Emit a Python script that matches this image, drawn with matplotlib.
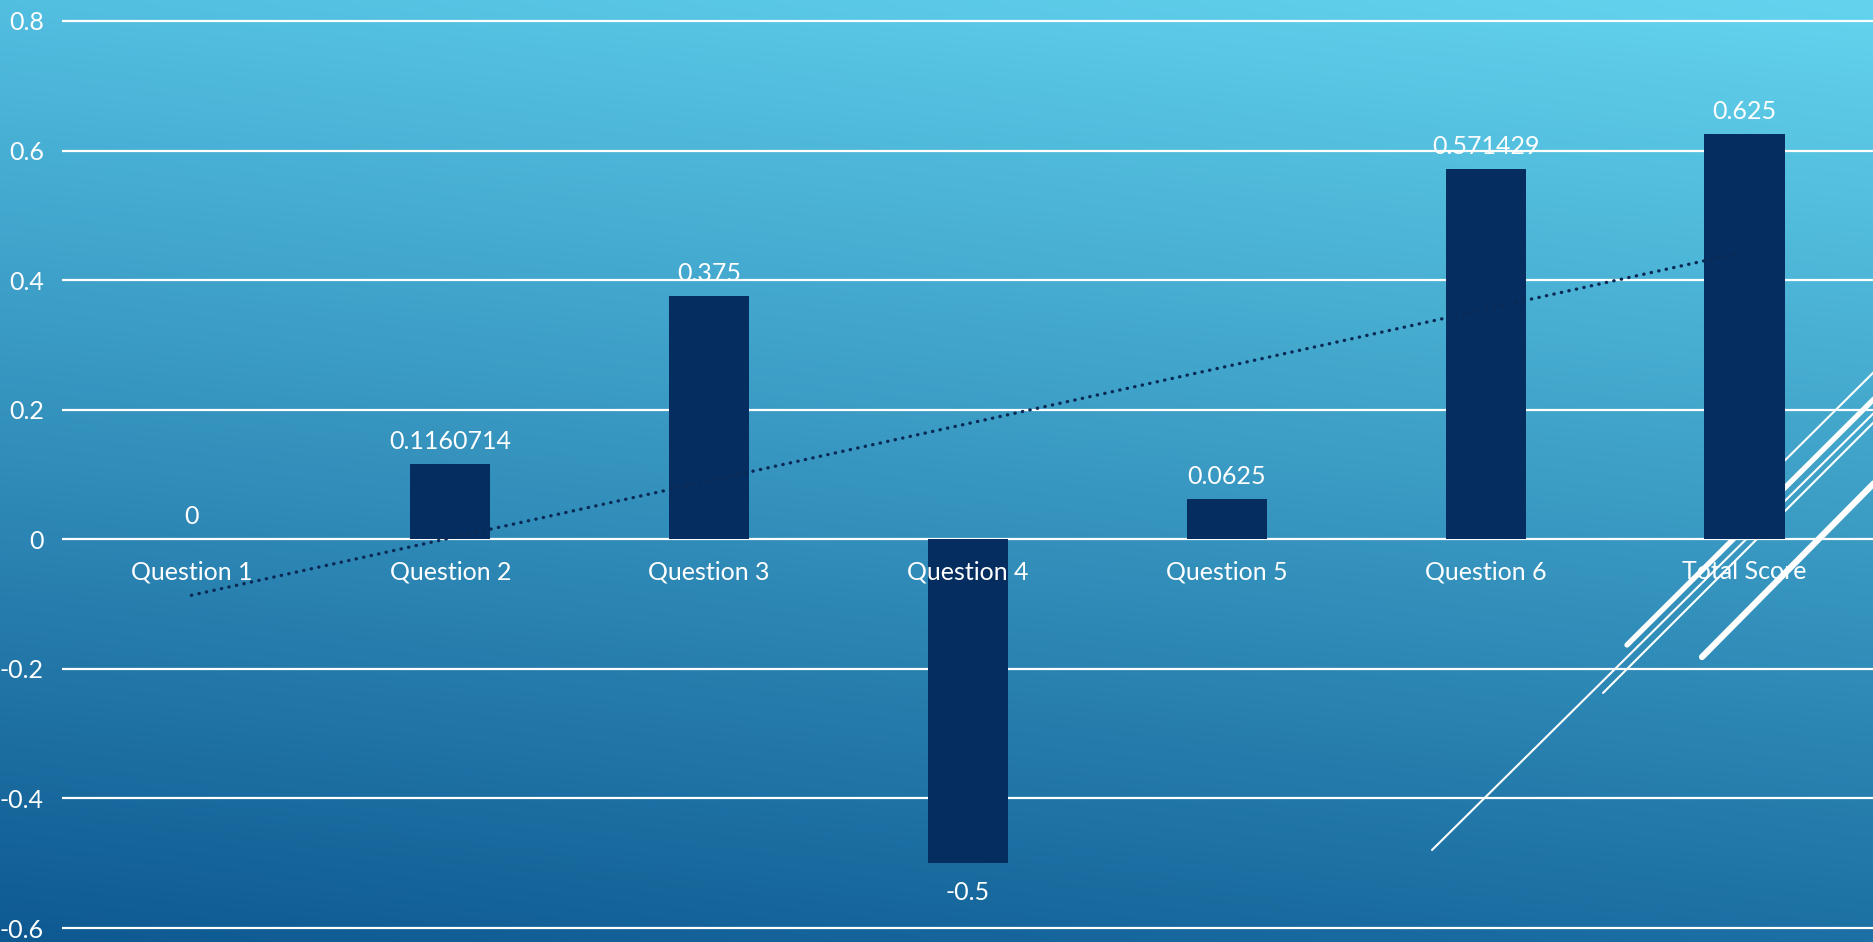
import numpy as np
import matplotlib
matplotlib.use("Agg")
import matplotlib.pyplot as plt
from matplotlib.lines import Line2D

plt.rcParams['font.family'] = ['Lato', 'DejaVu Sans']
plt.rcParams['axes.unicode_minus'] = False

questions = ['Question 1', 'Question 2', 'Question 3', 'Question 4',
             'Question 5', 'Question 6', 'Total Score']
scores = [0, 0.1160714, 0.375, -0.5, 0.0625, 0.571429, 0.625]
y_ticks = [-0.6, -0.4, -0.2, 0, 0.2, 0.4, 0.6, 0.8]

W, H = 1874, 942
fig = plt.figure(figsize=(W / 100, H / 100), dpi=100)

# slide background: four-corner blend, light cyan top right to deep blue bottom left
bg = fig.add_axes([0, 0, 1, 1], zorder=-10)
bg.set_axis_off()
c_tl = np.array([82, 190, 224]) / 255
c_tr = np.array([99, 212, 238]) / 255
c_bl = np.array([14, 89, 145]) / 255
c_br = np.array([28, 112, 163]) / 255
u = np.linspace(0, 1, 200)[None, :, None]
v = np.linspace(0, 1, 100)[:, None, None]
grad = (c_tl * (1 - u) * (1 - v) + c_tr * u * (1 - v)
        + c_bl * (1 - u) * v + c_br * u * v)
bg.imshow(grad, aspect='auto', extent=[0, 1, 0, 1], interpolation='bicubic')
bg.set_xlim(0, 1)
bg.set_ylim(0, 1)

# white diagonal strokes in the lower right corner (pixel coords, y down)
strokes = [
    ((1432, 850), (1890, 397), 1.5),
    ((1603, 693), (1890, 406), 1.5),
    ((1740, 505), (1890, 356), 1.5),
    ((1627, 645), (1890, 383), 3.8),
    ((1702, 657), (1890, 467), 4.5),
]
for (x0, y0), (x1, y1), lw in strokes:
    bg.add_line(Line2D([x0 / W, x1 / W], [1 - y0 / H, 1 - y1 / H],
                       color='white', lw=lw, solid_capstyle='round'))

# chart area
y_top = 0.8 + 21 / 648
y_bot = -0.6 - 14 / 648
ax = fig.add_axes([62 / W, 0, 1 - 62 / W, 1])
ax.patch.set_alpha(0)
ax.set_xlim(-0.5, len(questions) - 0.5)
ax.set_ylim(y_bot, y_top)

x = np.arange(len(questions))
bars = ax.bar(x, scores, width=0.31, color='#062d5f', zorder=2)
pos_labels = [f'{s:.7g}' if s >= 0 else '' for s in scores]
neg_labels = [f'{s:.7g}' if s < 0 else '' for s in scores]
ax.bar_label(bars, labels=pos_labels, padding=8, color='white', fontsize=18)
ax.bar_label(bars, labels=neg_labels, padding=13, color='white', fontsize=18)

# linear trend over the categories
k, b = np.polyfit(x, scores, 1)
ax.plot(x, k * x + b, color='#0a2a55', lw=2.4, linestyle=(0, (0.1, 2.2)),
        dash_capstyle='round', zorder=3)

ax.set_axisbelow(True)
ax.set_yticks(y_ticks)
ax.set_yticklabels([f'{t:g}' for t in y_ticks])
ax.yaxis.grid(True, color='white', lw=1.6)
ax.tick_params(axis='y', length=0, pad=13, labelcolor='white', labelsize=18)

ax.set_xticks(x)
ax.set_xticklabels(questions)
ax.spines['bottom'].set_position(('data', 0))
ax.tick_params(axis='x', length=0, pad=15, labelcolor='white', labelsize=18)
ax.xaxis.set_zorder(5)
for sp in ax.spines.values():
    sp.set_visible(False)

fig.savefig('out.png', dpi=100)
